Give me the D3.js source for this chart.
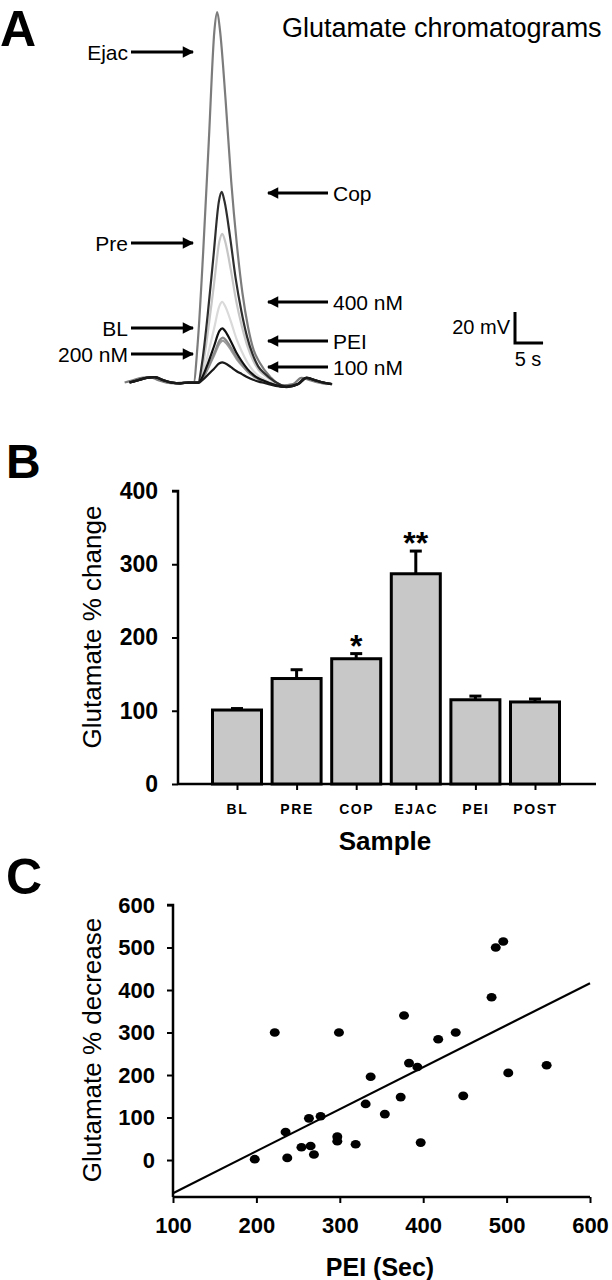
<!DOCTYPE html>
<html>
<head>
<meta charset="UTF-8">
<script src="https://d3js.org/d3.v7.min.js"></script>
<style>
  body { margin: 0; background: #fff; }
  svg { display: block; font-family: "Liberation Sans", Arial, sans-serif; }
</style>
</head>
<body>
<svg></svg>
<script>
let width = 612, height = 1280;

// ---- panel A: chromatograms ----
// time grid (s), shared normalised peak shape and baseline wiggle (mV)
const timeS   = [0, 1.5, 3, 4.5, 6, 7.5, 9, 10.5, 12.3, 13, 14, 15, 16, 16.5, 17, 18, 19, 20, 21, 22, 23, 24, 26, 28, 30, 31.5, 33, 34.5, 36];
const shape   = [0, 0, 0, 0, 0, 0, 0, 0, 0, 0.1, 0.35, 0.65, 0.95, 1.0, 0.95, 0.76, 0.54, 0.37, 0.24, 0.15, 0.09, 0.06, 0.025, 0.005, 0, 0, 0, 0, 0];
const wiggle  = [-1, 0.5, 2, 2.5, 0.5, -1, -1.5, -1, -1, -0.5, 0, 0, 0, 0, 0, 0, 0, 0, -0.5, -1, -1.5, -2, -3.5, -4, -2, 2, 0.5, -1, -2];
const traceNames = ["400 nM", "Pre", "Ejac", "PEI", "BL", "Cop", "200 nM", "100 nM"];
const tracePeaks = [51, 95, 238, 26, 28, 122, 34, 12];    // mV
const traceShift = [0.3, 0.3, -0.6, 0.4, 0.4, 0.2, 0.3, 0.3]; // s
const traceColors = ["#dadada", "#c6c6c6", "#7c7c7c", "#9c9c9c", "#8a8a8a", "#2e2e2e", "#111", "#1a1a1a"];
const leftLabels  = ["Ejac", "Pre", "BL", "200 nM"];
const leftArrowY  = [52, 243, 328, 354];
const rightLabels = ["Cop", "400 nM", "PEI", "100 nM"];
const rightArrowY = [193, 302, 341, 367];

// ---- panel B: bars ----
const samples = ["BL", "PRE", "COP", "EJAC", "PEI", "POST"];
const change  = [101, 144, 171, 287, 115, 112];
const changeErr = [2, 12, 7, 31, 5, 4];
const stars   = ["", "", "*", "**", "", ""];
const yTicksB = [0, 100, 200, 300, 400];

// ---- panel C: scatter ----
const peiSec = [222, 299, 377, 487, 496, 482, 418, 439, 383, 393, 337, 502, 548, 373, 448,
                331, 354, 235, 263, 277, 297, 297, 319, 397, 254, 265, 269, 198, 237];
const gluDecrease = [300, 300, 340, 500, 514, 383, 284, 300, 228, 219, 196, 205, 223, 148, 151,
                     132, 108, 66, 98, 103, 55, 44, 37, 41, 30, 33, 13, 2, 5];
const fitX = [100, 600];
const fitY = [-78, 416];
const xTicksC = [100, 200, 300, 400, 500, 600];
const yTicksC = [0, 100, 200, 300, 400, 500, 600];

let svg = d3.select("svg").attr("width", width).attr("height", height);

function panelLetter(txt, x, y, size) {
  svg.append("text").attr("x", x).attr("y", y).attr("font-size", size)
    .attr("font-weight", "bold").text(txt);
}

// ===== A =====
panelLetter("A", 0, 46, 50);
svg.append("text").attr("x", 282).attr("y", 37).attr("font-size", 27)
  .text("Glutamate chromatograms");

let xA = d3.scaleLinear().domain([0, 36]).range([128, 330]);
let yA = d3.scaleLinear().domain([0, 20]).range([381, 350]);

let traceLine = d3.line().curve(d3.curveMonotoneX);
let gA = svg.append("g");
traceNames.forEach((name, i) => {
  let pts = timeS.map((t, j) => [xA(t + traceShift[i]), yA(wiggle[j] + tracePeaks[i] * shape[j])]);
  gA.append("path")
    .attr("d", traceLine(pts))
    .attr("fill", "none")
    .attr("stroke", traceColors[i])
    .attr("stroke-width", 2.2);
});

svg.append("defs").append("marker")
  .attr("id", "head").attr("viewBox", "0 0 10 10")
  .attr("refX", 9).attr("refY", 5)
  .attr("markerWidth", 4).attr("markerHeight", 3.8)
  .attr("markerUnits", "strokeWidth").attr("orient", "auto")
  .append("path").attr("d", "M0,0L10,5L0,10z").attr("fill", "#000");

leftLabels.forEach((lab, i) => {
  svg.append("line").attr("x1", 131).attr("x2", 193)
    .attr("y1", leftArrowY[i]).attr("y2", leftArrowY[i])
    .attr("stroke", "#000").attr("stroke-width", 3).attr("marker-end", "url(#head)");
  svg.append("text").attr("x", 128).attr("y", leftArrowY[i])
    .attr("text-anchor", "end").attr("dominant-baseline", "central")
    .attr("font-size", 21).text(lab);
});
rightLabels.forEach((lab, i) => {
  svg.append("line").attr("x1", 328).attr("x2", 268)
    .attr("y1", rightArrowY[i]).attr("y2", rightArrowY[i])
    .attr("stroke", "#000").attr("stroke-width", 3).attr("marker-end", "url(#head)");
  svg.append("text").attr("x", 333).attr("y", rightArrowY[i])
    .attr("dominant-baseline", "central")
    .attr("font-size", 21).text(lab);
});

// scale bar
let sbX = 515, sbY = 343;
svg.append("path")
  .attr("d", `M${sbX},${sbY - (yA(0) - yA(20))}V${sbY}H${sbX + xA(5) - xA(0)}`)
  .attr("fill", "none").attr("stroke", "#000").attr("stroke-width", 3);
svg.append("text").attr("x", 510).attr("y", 327).attr("text-anchor", "end")
  .attr("dominant-baseline", "central").attr("font-size", 20).text("20 mV");
svg.append("text").attr("x", 528).attr("y", 359).attr("text-anchor", "middle")
  .attr("dominant-baseline", "central").attr("font-size", 20).text("5 s");

// ===== B =====
panelLetter("B", 6, 478, 48);

let xB = d3.scalePoint().domain(samples).range([237, 535]);
let yB = d3.scaleLinear().domain([0, 400]).range([784, 491]);
let barW = 49;

let gB = svg.append("g");
gB.append("g").attr("transform", "translate(178,0)")
  .call(d3.axisLeft(yB).tickValues(yTicksB).tickSize(6).tickPadding(14))
  .call(g => g.select(".domain").attr("stroke-width", 2.5).attr("d", `M-6,${yB(400)}H0V${yB(0)}`))
  .call(g => g.selectAll(".tick line").attr("stroke-width", 2))
  .call(g => g.selectAll("text").attr("font-size", 23).attr("font-weight", "bold")
    .attr("font-family", "Liberation Sans, Arial, sans-serif").attr("fill", "#000"));

gB.append("g").attr("transform", "translate(0,784)")
  .call(d3.axisBottom(xB).tickSize(6).tickPadding(14))
  .call(g => g.select(".domain").attr("stroke-width", 2.5).attr("d", "M178,0H596"))
  .call(g => g.selectAll(".tick line").attr("stroke-width", 2))
  .call(g => g.selectAll("text").attr("font-size", 14).attr("font-weight", "bold")
    .attr("letter-spacing", 1.6)
    .attr("font-family", "Liberation Sans, Arial, sans-serif").attr("fill", "#000"));

// error bars first, bars on top
samples.forEach((s, i) => {
  let cx = xB(s), top = yB(change[i] + changeErr[i]);
  gB.append("line").attr("x1", cx).attr("x2", cx).attr("y1", yB(change[i])).attr("y2", top)
    .attr("stroke", "#000").attr("stroke-width", 3);
  gB.append("line").attr("x1", cx - 6).attr("x2", cx + 6).attr("y1", top).attr("y2", top)
    .attr("stroke", "#000").attr("stroke-width", 3);
  if (stars[i]) {
    gB.append("text").attr("x", cx).attr("y", top + 3).attr("text-anchor", "middle")
      .attr("font-size", 32).attr("font-weight", "bold").text(stars[i]);
  }
});
gB.selectAll("rect").data(samples).join("rect")
  .attr("x", d => xB(d) - barW / 2)
  .attr("y", (d, i) => yB(change[i]))
  .attr("width", barW)
  .attr("height", (d, i) => yB(0) - yB(change[i]))
  .attr("fill", "#c8c8c8").attr("stroke", "#000").attr("stroke-width", 3);

svg.append("text").attr("transform", "translate(92,627) rotate(-90)")
  .attr("text-anchor", "middle").attr("dominant-baseline", "central")
  .attr("font-size", 26).text("Glutamate % change");
svg.append("text").attr("x", 385).attr("y", 841).attr("text-anchor", "middle")
  .attr("dominant-baseline", "central").attr("font-size", 26).attr("font-weight", "bold")
  .text("Sample");

// ===== C =====
panelLetter("C", 6, 894, 50);

let xC = d3.scaleLinear().domain([100, 600]).range([173, 590]);
let yC = d3.scaleLinear().domain([-87, 600]).range([1197, 905]);

let gC = svg.append("g");
gC.append("g").attr("transform", "translate(173,0)")
  .call(d3.axisLeft(yC).tickValues(yTicksC).tickSize(6).tickPadding(12))
  .call(g => g.select(".domain").attr("stroke-width", 2.5).attr("d", `M-6,${yC(600)}H0V${yC(-87)}`))
  .call(g => g.selectAll(".tick line").attr("stroke-width", 2))
  .call(g => g.selectAll("text").attr("font-size", 22).attr("font-weight", "bold")
    .attr("font-family", "Liberation Sans, Arial, sans-serif").attr("fill", "#000"));

gC.append("g").attr("transform", "translate(0,1197)")
  .call(d3.axisBottom(xC).tickValues(xTicksC).tickSize(6).tickPadding(14))
  .call(g => g.select(".domain").attr("stroke-width", 2.5).attr("d", "M173,0H590"))
  .call(g => g.selectAll(".tick line").attr("stroke-width", 2))
  .call(g => g.selectAll("text").attr("font-size", 22).attr("font-weight", "bold")
    .attr("font-family", "Liberation Sans, Arial, sans-serif").attr("fill", "#000"));

gC.append("line")
  .attr("x1", xC(fitX[0])).attr("y1", yC(fitY[0]))
  .attr("x2", xC(fitX[1])).attr("y2", yC(fitY[1]))
  .attr("stroke", "#000").attr("stroke-width", 2.2);

gC.selectAll("ellipse").data(peiSec).join("ellipse")
  .attr("cx", d => xC(d))
  .attr("cy", (d, i) => yC(gluDecrease[i]))
  .attr("rx", 5).attr("ry", 4.3).attr("fill", "#000");

svg.append("text").attr("transform", "translate(92,1050) rotate(-90)")
  .attr("text-anchor", "middle").attr("dominant-baseline", "central")
  .attr("font-size", 26).text("Glutamate % decrease");
svg.append("text").attr("x", 380).attr("y", 1267).attr("text-anchor", "middle")
  .attr("dominant-baseline", "central").attr("font-size", 25).attr("font-weight", "bold")
  .text("PEI (Sec)");
</script>
</body>
</html>
